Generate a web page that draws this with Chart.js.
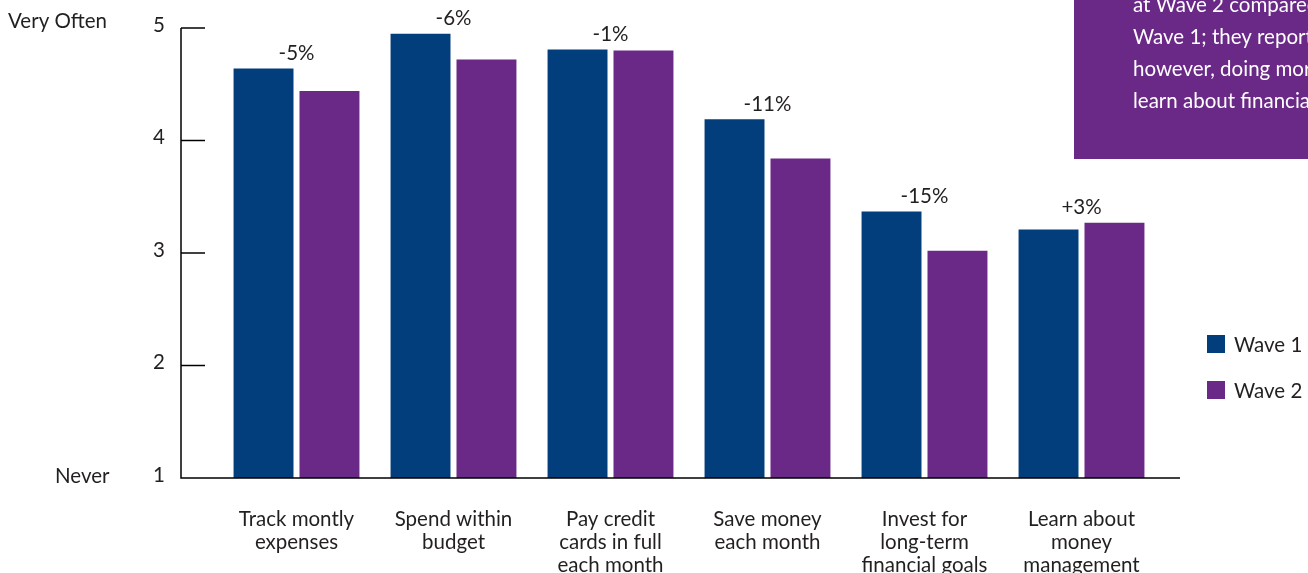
<!DOCTYPE html>
<html>
<head>
<meta charset="utf-8">
<script src="https://cdn.jsdelivr.net/npm/chart.js@4.4.1/dist/chart.umd.min.js"></script>
<style>
  html, body { margin: 0; padding: 0; background: #fff; }
  #wrap { width: 1308px; height: 573px; position: relative; }
</style>
</head>
<body>
<div id="wrap"><canvas id="chart"></canvas></div>
<script>
// Behaviour frequency, mean score on a 1 (Never) to 5 (Very Often) scale
var categories = [
  ['Track montly', 'expenses'],
  ['Spend within', 'budget'],
  ['Pay credit', 'cards in full', 'each month'],
  ['Save money', 'each month'],
  ['Invest for', 'long-term', 'financial goals'],
  ['Learn about', 'money', 'management']
];
var wave1 = [4.64, 4.95, 4.81, 4.19, 3.37, 3.21];
var wave2 = [4.44, 4.72, 4.80, 3.84, 3.02, 3.27];
var changeLabels = ['-5%', '-6%', '-1%', '-11%', '-15%', '+3%'];
var yTicks = [1, 2, 3, 4, 5];
var calloutLines = [
  'at Wave 2 compared to',
  'Wave 1; they reported,',
  'however, doing more to',
  'learn about financial'
];

var FONT = 'Lato, "Open Sans", sans-serif';
var FSIZE = 20.5;
var INK = '#231f20';
var BLUE = '#033e7c';
var PURPLE = '#6a2887';

// axis frame, tick labels, change labels, legend and callout box
var decorations = {
  id: 'decorations',
  afterDatasetsDraw: function(chart) {
    var ctx = chart.ctx;
    var x = chart.scales.x, y = chart.scales.y;
    var area = chart.chartArea;
    var axisX = area.left - 37;

    ctx.save();
    ctx.strokeStyle = '#000';
    ctx.lineWidth = 1.5;
    ctx.beginPath();
    ctx.moveTo(axisX, y.getPixelForValue(5));
    ctx.lineTo(axisX, y.getPixelForValue(1));
    ctx.lineTo(area.right + 20, y.getPixelForValue(1));
    ctx.stroke();

    ctx.font = FSIZE + 'px ' + FONT;
    ctx.fillStyle = INK;
    ctx.textBaseline = 'middle';
    yTicks.forEach(function(v) {
      var py = y.getPixelForValue(v);
      if (v > 1) {
        ctx.beginPath();
        ctx.moveTo(axisX, py);
        ctx.lineTo(axisX + 24, py);
        ctx.stroke();
      }
      ctx.textAlign = 'center';
      ctx.fillText(String(v), axisX - 22, py - 3);
    });
    ctx.textAlign = 'left';
    ctx.fillText('Very Often', 8, y.getPixelForValue(5) - 7);
    ctx.fillText('Never', 55, y.getPixelForValue(1) - 2);

    // percentage change above each pair
    ctx.textAlign = 'center';
    changeLabels.forEach(function(txt, i) {
      var top = y.getPixelForValue(Math.max(wave1[i], wave2[i]));
      ctx.fillText(txt, x.getPixelForValue(i), top - 15);
    });

    // legend
    var sets = chart.data.datasets;
    sets.forEach(function(ds, i) {
      var ly = 344 + i * 46;
      ctx.fillStyle = ds.backgroundColor;
      ctx.fillRect(1207, ly - 9, 18, 18);
      ctx.fillStyle = INK;
      ctx.textAlign = 'left';
      ctx.fillText(ds.label, 1234, ly + 1);
    });

    // callout box
    ctx.fillStyle = PURPLE;
    ctx.fillRect(1074, 0, 234, 159);
    ctx.fillStyle = '#fff';
    ctx.textAlign = 'left';
    calloutLines.forEach(function(line, i) {
      ctx.fillText(line, 1133, 5 + i * 32);
    });
    ctx.restore();
  }
};

new Chart(document.getElementById('chart'), {
  type: 'bar',
  data: {
    labels: categories,
    datasets: [
      { label: 'Wave 1', data: wave1, backgroundColor: BLUE },
      { label: 'Wave 2', data: wave2, backgroundColor: PURPLE }
    ]
  },
  options: {
    responsive: true,
    maintainAspectRatio: false,
    animation: false,
    layout: { padding: { left: 218, right: 148, top: 28, bottom: 0 } },
    categoryPercentage: 0.84,
    barPercentage: 0.909,
    plugins: { legend: { display: false }, tooltip: { enabled: false } },
    scales: {
      x: {
        offset: true,
        grid: { display: false },
        border: { display: false },
        ticks: {
          color: INK,
          font: { family: FONT, size: FSIZE, lineHeight: 1.12 },
          padding: 22,
          maxRotation: 0,
          autoSkip: false
        },
        afterFit: function(scale) { scale.height = 95; }
      },
      y: {
        display: false,
        min: 1,
        max: 5
      }
    }
  },
  plugins: [decorations]
});
</script>
</body>
</html>
